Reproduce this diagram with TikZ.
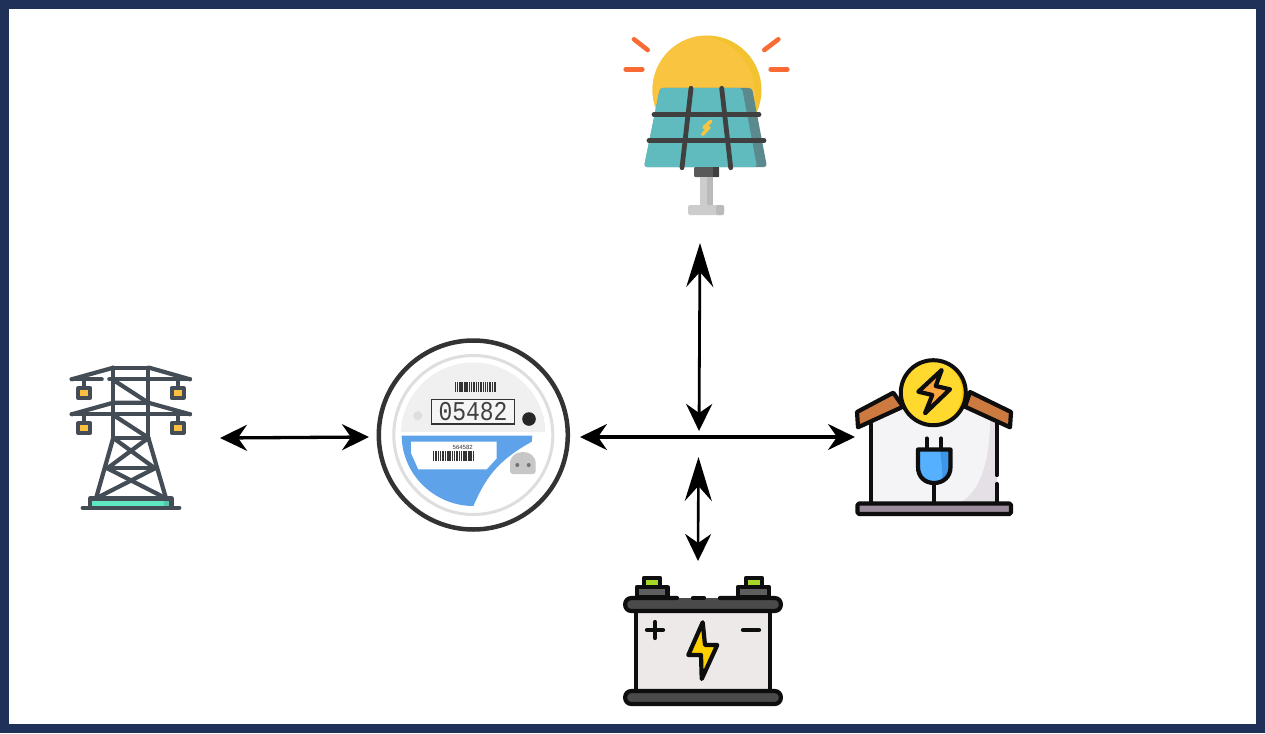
\documentclass[tikz,border=0pt]{standalone}
\usepackage{fontspec}
\setmainfont{Liberation Sans}
\newfontfamily\digitfont{Liberation Mono}
\usetikzlibrary{arrows.meta}
\definecolor{navy}{HTML}{1F3158}
\definecolor{towergrey}{HTML}{444D56}
\definecolor{ink}{HTML}{0E0E0E}
\definecolor{sunout}{HTML}{F2C230}
\definecolor{sunin}{HTML}{F9C440}
\definecolor{panel}{HTML}{5FBBBE}
\definecolor{panelshade}{HTML}{5A8A8E}
\definecolor{rayc}{HTML}{F96A35}
\definecolor{meterblue}{HTML}{5EA2EA}
\definecolor{wall}{HTML}{F4F4F6}
\definecolor{wallshade}{HTML}{E5E0E5}
\definecolor{floorc}{HTML}{9A8C9A}
\definecolor{roof}{HTML}{CC7A40}
\definecolor{badge}{HTML}{FFD92E}
\definecolor{badgeshade}{HTML}{F9C400}
\definecolor{boltor}{HTML}{FBA53F}
\definecolor{plugc}{HTML}{55B0FF}
\definecolor{plugd}{HTML}{3E96E8}
\definecolor{lid}{HTML}{4A4A4A}
\definecolor{term}{HTML}{5E5E5E}
\definecolor{green1}{HTML}{A5D628}
\definecolor{battbody}{HTML}{EDE9E9}
\definecolor{boltye}{HTML}{FFD000}
\definecolor{insul}{HTML}{FBC040}
\definecolor{mint}{HTML}{5FE8C0}
\definecolor{mintd}{HTML}{55C8A8}
\tikzset{
  shorthead/.tip={Stealth[length=27pt,width=26pt,inset=9pt]},
  longhead/.tip={Stealth[length=44pt,width=27pt,inset=15pt]},
  flow/.style={draw=black,line width=3.3pt},
  tower/.style={draw=towergrey,line width=4.2pt,line cap=round,line join=round},
  outl/.style={draw=ink,line width=4.2pt,line join=round,line cap=round},
  panelbar/.style={draw=black!75,line width=4.8pt,line cap=round},
  ray/.style={draw=rayc,line width=4.6pt,line cap=round},
}
\newcommand{\barcode}[3]{% x, y-top, y-bottom
  \foreach \o/\w in {0/1.2,2/.7,3.6/.7,5.4/1.3,7.4/.7,9/.7,10.4/1.2,12.3/.7,14/.7,15.6/1.3,17.7/.7,19.4/.7,21/1.2,23/.7,24.6/.7,26/1.3,28.2/.7,30/.7,31.6/1.2,33.6/.7,35.2/.7,36.6/1.3,38.6/.7,40.2/1.2}
    \fill[black!80] ({#1+\o},#2) rectangle ({#1+\o+\w},#3);
}
\begin{document}
\begin{tikzpicture}[x=1pt,y=-1pt]
\useasboundingbox (0,0) rectangle (1265,733);
\fill[navy] (0,0) rectangle (1265,733);
\fill[white] (9,9) rectangle (1256,724);

% ---- arrow end points
\coordinate (gridR) at (220,438);
\coordinate (meterL) at (369,437);
\coordinate (meterR) at (580,437);
\coordinate (houseL) at (855,437);
\coordinate (solarB) at (700,243);
\coordinate (hubN) at (699,431);
\coordinate (hubS) at (698.5,457);
\coordinate (battT) at (698,561);
\draw[flow,{shorthead}-{shorthead}] (gridR) -- (meterL);
\draw[flow,{shorthead}-{shorthead}] (meterR) -- (houseL);
\draw[flow,line width=2.8pt,{longhead}-{shorthead}] (solarB) -- (hubN);
\draw[flow,line width=2.6pt,{longhead}-{shorthead}] (hubS) -- (battT);

% ---- solar panel
\fill[sunout] (707,90) circle (54.5);
\begin{scope}
  \clip (707,90) circle (54.5);
  \fill[sunin] (697,94) circle (58);
\end{scope}
\fill[rounded corners=3pt,fill=panelshade] (660,88) -- (752,88) -- (767,167) -- (644,167) -- cycle;
\fill[rounded corners=3pt,fill=panel] (660,88) -- (742,88) -- (757,167) -- (644,167) -- cycle;
\draw[panelbar] (654,114.7) -- (759,114.7);
\draw[panelbar] (649,140.7) -- (764,140.7);
\draw[panelbar] (691,88.3) -- (682,167.7);
\draw[panelbar] (721.7,88.3) -- (730.7,167.7);
\draw[sunin,line width=3.4pt,line join=round,line cap=round] (711,121) -- (704,127.5) -- (709,127.5) -- (702.5,134.5);
\fill[black!65,rounded corners=1pt] (694,167) rectangle (719,177);
\fill[black!75] (713,167) rectangle (719,177);
\fill[black!20] (700,177) rectangle (713,205);
\fill[black!27] (707,177) rectangle (713,205);
\fill[black!20,rounded corners=1.5pt] (688,205) rectangle (724,215);
\fill[black!27,rounded corners=1.5pt] (716,205) rectangle (724,215);
\draw[ray] (634,39.3) -- (647.7,50);
\draw[ray] (625.7,69.3) -- (642.3,69.3);
\draw[ray] (778.3,39.3) -- (764.3,50);
\draw[ray] (770.7,69.3) -- (787.3,69.3);

% ---- smart meter
\draw[black!80,line width=4.5pt,fill=white] (473.3,435) circle (94.5);
\draw[black!13,line width=3pt] (473.3,435) circle (79.5);
\begin{scope}
  \clip (473.3,435) circle (72.5);
  \fill[black!6] (395,360) rectangle (545,432);
\end{scope}
\barcode{455}{382}{392}
\draw[black!80,line width=1.5pt,fill=white!96!black] (431.7,399.3) rectangle (514.3,424);
\node[inner sep=0pt,text=black!75] (reading) at (473,411.7) {\scalebox{1}[1.18]{\digitfont\fontsize{23}{23}\selectfont 05482}};
\fill[black!6] (529,419) circle (9.5);
\fill[black!85] (529,419) circle (6.8);
\fill[black!13] (417.7,415.7) circle (4.5);
\fill[meterblue] (401.7,435.7) -- (532.3,435.7) -- (531.7,441.7) .. controls (495,462) and (485,480) .. (473.3,506) .. controls (435,506) and (402,475) .. (401.7,435.7) -- cycle;
\fill[white] (411,441.7) -- (496.7,441.7) -- (496.7,458.3) -- (486.7,469.3) -- (418.3,469.3) -- (411,453) -- cycle;
\node[inner sep=0pt,text=black!80,font=\fontsize{6}{6}\selectfont] (serial) at (462.7,447.3) {564582};
\barcode{432.7}{450.7}{460.7}
\fill[black!22] (513,474) .. controls (511,474) and (510,473) .. (510,471) -- (510,464) .. controls (510,456) and (516,452) .. (522.8,452) .. controls (530,452) and (535.7,456) .. (535.7,464) -- (535.7,471) .. controls (535.7,473) and (534.7,474) .. (532.7,474) -- cycle;
\fill[black!55] (517.3,465) circle (2);
\fill[black!55] (528.7,465) circle (2);

% ---- house
\fill[wall] (871,420) -- (933,392) -- (997,420) -- (997,503) -- (871,503) -- cycle;
\fill[wallshade] (997,420) -- (990,420) .. controls (990,460) and (980,495) .. (958,503) -- (997,503) -- cycle;
\draw[outl] (871,424) -- (871,503);
\draw[outl] (996.7,424) -- (996.7,475);
\draw[outl] (996.7,484) -- (996.7,503);
\draw[outl,fill=floorc,rounded corners=1.5pt] (857.5,503.5) rectangle (1011,514);
\draw[outl,fill=roof] (857,412) -- (893.3,392.7) -- (903,406.7) -- (858,427.3) -- cycle;
\draw[outl,fill=roof] (970,392) -- (1011,412) -- (1010,427.3) -- (965,406.7) -- cycle;
\fill[badgeshade] (933.3,392.7) circle (32.5);
\begin{scope}
  \clip (933.3,392.7) circle (32.5);
  \fill[badge] (929,392.7) circle (33);
\end{scope}
\draw[ink,line width=4pt] (933.3,392.7) circle (32.5);
\draw[outl,fill=boltor] (941.7,370) -- (918.3,391.7) -- (932.3,395) -- (925,413.3) -- (950,389.3) -- (935.7,386) -- cycle;
\draw[outl] (926.7,438.5) -- (926.7,449);
\draw[outl] (941,438.5) -- (941,449);
\draw[outl] (934,483) -- (934,503);
\fill[plugc] (918,449.5) -- (950.5,449.5) -- (950.5,467) .. controls (950.5,477) and (943,483) .. (934,483) .. controls (925,483) and (918,477) .. (918,467) -- cycle;
\fill[plugd] (940,449.5) -- (950.5,449.5) -- (950.5,467) .. controls (950.5,475) and (946,480) .. (941,482) .. controls (944,476) and (941,460) .. (940,449.5) -- cycle;
\draw[outl] (918,449.5) -- (950.5,449.5) -- (950.5,467) .. controls (950.5,477) and (943,483) .. (934,483) .. controls (925,483) and (918,477) .. (918,467) -- cycle;

% ---- battery
\draw[outl,fill=term] (637,597) rectangle (667.5,587);
\draw[outl,fill=term] (738,597) rectangle (769,587);
\draw[outl,fill=green1] (644,587) rectangle (660,578);
\draw[outl,fill=green1] (746,587) rectangle (762,578);
\draw[outl,fill=battbody] (636,610) rectangle (770,691);
\fill[lid,rounded corners=6.5pt] (625,598) rectangle (781,611);
\draw[outl] (677,598) -- (631.5,598) .. controls (623,598) and (623,611) .. (631.5,611) -- (774.5,611) .. controls (783,611) and (783,598) .. (774.5,598) -- (720,598);
\draw[outl] (693,598) -- (704,598);
\fill[lid,rounded corners=6.5pt] (625,691) rectangle (781,704);
\draw[outl] (631.5,691) .. controls (623,691) and (623,704) .. (631.5,704) -- (774.5,704) .. controls (783,704) and (783,691) .. (774.5,691) -- cycle;
\draw[outl] (655,622) -- (655,638);
\draw[outl] (647,630) -- (663,630);
\draw[outl] (743,630) -- (759,630);
\draw[outl,fill=boltye] (702.7,622.3) -- (688.3,655) -- (701,655) -- (701.7,679) -- (717.3,645) -- (705,645) -- cycle;

% ---- pylon
\draw[tower] (113.3,367.7) -- (149.3,367.7);
\draw[tower] (71.7,379.3) -- (113.3,367.7);
\draw[tower] (190,379.3) -- (149.3,367.7);
\draw[tower] (71.7,379.3) -- (101.7,379.3);
\draw[tower] (109.3,379.3) -- (190,379.3);
\draw[tower] (71.7,414.3) -- (190,414.3);
\draw[tower] (71.7,414.3) -- (113.3,402.7) -- (148.3,402.7) -- (190,414.3);
\draw[tower] (113.3,367.7) -- (113.3,437.7) -- (148.3,437.7) -- (148.3,367.7);
\draw[tower] (113.3,380) -- (148.3,402.7);
\draw[tower] (113.3,415) -- (148.3,437.7);
\draw[tower] (113.3,437.7) -- (96,498.3);
\draw[tower] (148.3,437.7) -- (166,498.3);
\draw[tower] (113.3,438) -- (155,468.3);
\draw[tower] (148.3,438) -- (107.3,468.3);
\draw[tower] (107.3,468.3) -- (155,468.3);
\draw[tower] (107.3,468.3) -- (166,498.3);
\draw[tower] (155,468.3) -- (96,498.3);
\fill[mint] (90,498.5) rectangle (171.5,507.7);
\fill[mintd] (164,498.5) rectangle (171.5,507.7);
\draw[tower] (90,498.5) rectangle (171.5,507.7);
\draw[tower] (82.7,507.7) -- (179.3,507.7);
\foreach \cx/\top in {84.3/379.3,177.6/379.3,84.3/414.3,177.6/414.3}{
  \draw[tower] (\cx,\top) -- (\cx,\top+7.4);
  \draw[tower,fill=insul] (\cx-6,\top+9) rectangle (\cx+6,\top+18.5);
}
\end{tikzpicture}
\end{document}
